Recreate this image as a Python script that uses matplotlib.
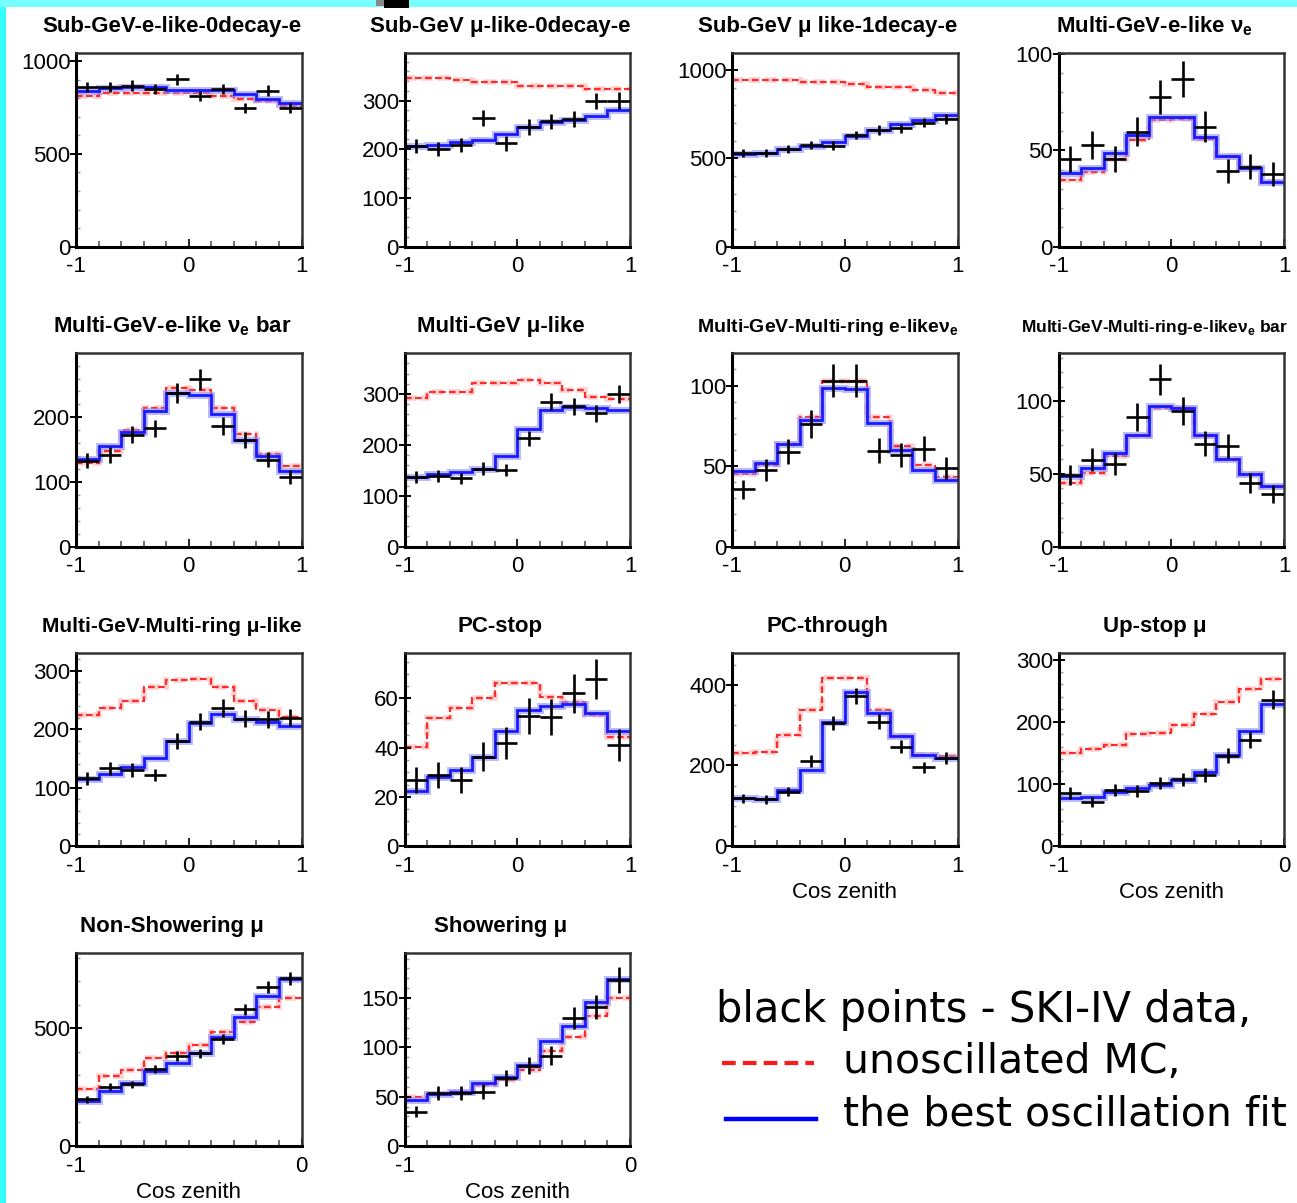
import numpy as np
import matplotlib
matplotlib.use('Agg')
import matplotlib.pyplot as plt
from matplotlib.ticker import MultipleLocator, FixedLocator
from matplotlib.patches import Rectangle
from matplotlib.lines import Line2D

plt.rcParams['font.family'] = ['Liberation Sans', 'DejaVu Sans']
plt.rcParams['axes.unicode_minus'] = False
plt.rcParams['mathtext.fontset'] = 'custom'
plt.rcParams['mathtext.rm'] = 'Liberation Sans'

# ---- data (10 bins per panel) ----
subgev_e0_data = [861, 861, 868, 850, 904, 814, 850, 747, 842, 747]
subgev_e0_err = [29, 29, 29, 29, 30, 28, 29, 27, 29, 27]
subgev_e0_fit = [837, 855, 860, 860, 846, 846, 846, 823, 797, 774]
subgev_e0_mc = [814, 828, 828, 828, 828, 828, 814, 797, 783, 760]

subgev_mu0_data = [207, 200, 209, 264, 212, 246, 257, 262, 299, 300]
subgev_mu0_err = [14, 14, 14, 16, 15, 16, 16, 16, 17, 17]
subgev_mu0_fit = [207, 209, 215, 219, 231, 245, 255, 259, 269, 281]
subgev_mu0_mc = [346, 346, 343, 338, 338, 330, 330, 330, 324, 323]

subgev_mu1_data = [528, 532, 553, 575, 572, 632, 660, 670, 702, 721]
subgev_mu1_err = [23, 23, 24, 24, 24, 25, 26, 26, 26, 27]
subgev_mu1_fit = [523, 532, 553, 572, 594, 628, 660, 694, 717, 745]
subgev_mu1_mc = [943, 943, 943, 932, 932, 920, 902, 902, 887, 868]

mge_nue_data = [45.3, 52.8, 45.3, 59.7, 77.5, 86.9, 62.3, 39.4, 41.5, 37.7]
mge_nue_err = [6.7, 7.3, 6.7, 7.7, 8.8, 9.3, 7.9, 6.3, 6.4, 6.1]
mge_nue_fit = [38.1, 41, 48.4, 58, 67.1, 67.5, 57.1, 47.2, 41, 33.7]
mge_nue_mc = [34.6, 38.9, 45.3, 55.4, 65.7, 66.3, 55.7, 46.7, 40.7, 33.7]

mge_nuebar_data = [133, 142, 173, 183, 238, 259, 187, 165, 134, 108]
mge_nuebar_err = [11.5, 12, 13, 13.5, 15.4, 16, 13.7, 12.8, 11.6, 10.4]
mge_nuebar_fit = [135, 155, 178, 210, 237, 234, 205, 165, 140, 117]
mge_nuebar_mc = [129, 148, 181, 214, 245, 242, 214, 174, 144, 125]

mgmu_data = [136, 139, 134, 153, 151, 213, 285, 276, 262, 300]
mgmu_err = [11.7, 11.8, 11.6, 12.4, 12.3, 14.6, 16.9, 16.6, 16.2, 17.3]
mgmu_fit = [136, 143, 147, 153, 179, 231, 269, 275, 272, 269]
mgmu_mc = [293, 303, 303, 321, 321, 327, 321, 308, 295, 290]

mr_nue_data = [35.6, 47.6, 59, 76.2, 103, 103, 59.6, 57, 60.7, 48.7]
mr_nue_err = [6, 6.9, 7.7, 8.7, 10.1, 10.1, 7.7, 7.5, 7.8, 7]
mr_nue_fit = [47, 52, 63.6, 78.3, 98.3, 97.7, 76.6, 60, 47.6, 41.4]
mr_nue_mc = [45, 50.7, 63.6, 80.3, 103, 103, 80.3, 62.7, 50.7, 43.5]

mr_nuebar_data = [49.4, 59.8, 57, 89.2, 115, 93.1, 70.8, 69, 43.7, 36.3]
mr_nuebar_err = [7, 7.7, 7.5, 9.4, 10.7, 9.6, 8.4, 8.3, 6.6, 6]
mr_nuebar_fit = [48.3, 54, 64.4, 77, 96.6, 95.4, 77, 60.2, 50.1, 41.4]
mr_nuebar_mc = [43.7, 50.6, 62, 75.9, 95.4, 95.4, 75.9, 60.2, 50.1, 40.9]

mr_mu_data = [116, 133, 130, 121.5, 180, 213, 237, 218, 217, 220]
mr_mu_err = [10.8, 11.5, 11.4, 11, 13.4, 14.6, 15.4, 14.8, 14.7, 14.8]
mr_mu_fit = [114, 124, 135, 150, 180, 211, 226, 218, 213, 205]
mr_mu_mc = [224, 236, 249, 272, 284, 286, 272, 249, 233, 221]

pcstop_data = [26.8, 28.9, 26.8, 36.3, 41.7, 52.8, 52.6, 62.1, 67.9, 41.1]
pcstop_err = [5.2, 5.4, 5.2, 6, 6.5, 7.3, 7.3, 7.9, 8.2, 6.4]
pcstop_fit = [22.4, 28.2, 30.9, 36.3, 46.7, 55.3, 56.9, 57.7, 54.2, 46.7]
pcstop_mc = [40.4, 51.9, 56.2, 60, 66.4, 66.4, 60.7, 58.7, 53.3, 44.4]

pcthru_data = [118, 116, 135, 212, 306, 373, 309, 247, 195, 218]
pcthru_err = [10.9, 10.8, 11.6, 14.6, 17.5, 19.3, 17.6, 15.7, 14, 14.8]
pcthru_fit = [118, 116, 139, 189, 307, 383, 330, 272, 226, 218]
pcthru_mc = [232, 234, 276, 338, 417, 417, 338, 272, 226, 224]

upstop_data = [85.7, 71.2, 90, 89, 101, 107, 114, 145, 171, 235]
upstop_err = [9.3, 8.4, 9.5, 9.4, 10, 10.3, 10.7, 12, 13.1, 15.3]
upstop_fit = [76.6, 78.2, 87.3, 92.7, 98, 106, 119.4, 146, 185, 228]
upstop_mc = [149, 156, 163, 181, 182, 194, 213, 232, 252, 269]

nonshow_data = [198, 252, 262, 327, 382, 394, 453, 581, 674, 712]
nonshow_err = [14, 16, 16, 18, 19.5, 19.8, 21.3, 24.1, 26, 26.7]
nonshow_fit = [191, 235, 269, 320, 354, 394, 462, 550, 639, 708]
nonshow_mc = [241, 297, 323, 372, 397, 429, 486, 528, 592, 627]

show_data = [34.9, 53.5, 53.5, 55.2, 68.7, 81.6, 91.4, 129.7, 141, 168.6]
show_err = [5.9, 7.3, 7.3, 7.4, 8.3, 9, 9.6, 11.4, 11.9, 13]
show_fit = [46.7, 52.5, 55.2, 64.3, 70.4, 82.3, 106.7, 122, 146, 169]
show_mc = [49.4, 52.5, 55.2, 62, 67, 77.2, 96.5, 111, 131.4, 150]

titles = ['Sub-GeV-e-like-0decay-e', 'Sub-GeV μ-like-0decay-e',
          'Sub-GeV μ like-1decay-e', r'Multi-GeV-e-like ν$_\mathregular{e}$',
          r'Multi-GeV-e-like ν$_\mathregular{e}$ bar', 'Multi-GeV μ-like',
          r'Multi-GeV-Multi-ring e-likeν$_\mathregular{e}$',
          r'Multi-GeV-Multi-ring-e-likeν$_\mathregular{e}$ bar',
          'Multi-GeV-Multi-ring μ-like', 'PC-stop', 'PC-through', 'Up-stop μ',
          'Non-Showering μ', 'Showering μ']

panels = [
    (subgev_e0_data, subgev_e0_err, subgev_e0_fit, subgev_e0_mc),
    (subgev_mu0_data, subgev_mu0_err, subgev_mu0_fit, subgev_mu0_mc),
    (subgev_mu1_data, subgev_mu1_err, subgev_mu1_fit, subgev_mu1_mc),
    (mge_nue_data, mge_nue_err, mge_nue_fit, mge_nue_mc),
    (mge_nuebar_data, mge_nuebar_err, mge_nuebar_fit, mge_nuebar_mc),
    (mgmu_data, mgmu_err, mgmu_fit, mgmu_mc),
    (mr_nue_data, mr_nue_err, mr_nue_fit, mr_nue_mc),
    (mr_nuebar_data, mr_nuebar_err, mr_nuebar_fit, mr_nuebar_mc),
    (mr_mu_data, mr_mu_err, mr_mu_fit, mr_mu_mc),
    (pcstop_data, pcstop_err, pcstop_fit, pcstop_mc),
    (pcthru_data, pcthru_err, pcthru_fit, pcthru_mc),
    (upstop_data, upstop_err, upstop_fit, upstop_mc),
    (nonshow_data, nonshow_err, nonshow_fit, nonshow_mc),
    (show_data, show_err, show_fit, show_mc),
]

# ---- layout / style per panel: (xmax, ymax, major, minor, title size) ----
layout = [
    (1, 1043, 500, 100, 16), (1, 397, 100, 20, 16), (1, 1094, 500, 100, 16), (1, 100.3, 50, 10, 16),
    (1, 299, 100, 20, 16), (1, 380, 100, 20, 16), (1, 120, 50, 10, 14), (1, 133, 50, 10, 12.5),
    (1, 331, 100, 20, 15), (1, 78.6, 20, 5, 16), (1, 480, 200, 50, 16), (0, 311, 100, 20, 16),
    (0, 821, 500, 100, 16), (0, 196, 50, 10, 16),
]

W, H = 1297, 1203
col_left = [76, 404.5, 732, 1058.5]
row_top = [53.3, 353.3, 652.7, 952.7]
aw, ah = 225.5, 193.3

fig = plt.figure(figsize=(W / 100, H / 100), dpi=100)

# cyan frame bits
fig.add_artist(Rectangle((0, 0), 6 / W, 1, transform=fig.transFigure, color='#33ffff', lw=0))
fig.add_artist(Rectangle((0, 1 - 7 / H), 1, 7 / H, transform=fig.transFigure, color='#77ffff', lw=0))
fig.add_artist(Rectangle((384 / W, 1 - 8 / H), 25 / W, 8 / H, transform=fig.transFigure, color='black', lw=0))
fig.add_artist(Rectangle((376 / W, 1 - 6 / H), 8 / W, 6 / H, transform=fig.transFigure, color='#888888', lw=0))

for i, (vals, lay) in enumerate(zip(panels, layout)):
    data, err, fit, mc = vals
    xmax, ymax, major, minor, tsize = lay
    r, c = divmod(i, 4)
    ax = fig.add_axes([col_left[c] / W, 1 - (row_top[r] + ah) / H, aw / W, ah / H])
    edges = np.linspace(-1, xmax, 11)
    centers = 0.5 * (edges[:-1] + edges[1:])
    hw = 0.5 * (edges[1] - edges[0])

    ax.stairs(mc, edges, baseline=None, color='#ffb0b0', lw=4, alpha=0.6, linestyle=(0, (2, 1)))
    ax.stairs(mc, edges, baseline=None, color='#ff2a2a', lw=1.6, linestyle=(0, (3, 1.5)))
    ax.stairs(fit, edges, baseline=None, color='#8c8cff', lw=5, alpha=0.6)
    ax.stairs(fit, edges, baseline=None, color='#1a1aff', lw=2)
    ax.errorbar(centers, data, xerr=hw, yerr=err, fmt='none', ecolor='black',
                elinewidth=1.9, capsize=0, zorder=5)

    ax.set_xlim(-1, xmax)
    ax.set_ylim(0, ymax)
    ax.set_title(titles[i], fontsize=tsize, fontweight='bold', x=0.425, pad=15)

    xt = [-1, 0, 1] if xmax == 1 else [-1, 0]
    ax.xaxis.set_major_locator(FixedLocator(xt))
    ax.xaxis.set_minor_locator(FixedLocator(edges))
    ax.yaxis.set_major_locator(MultipleLocator(major))
    ax.yaxis.set_minor_locator(MultipleLocator(minor))
    ax.tick_params(axis='x', which='major', direction='in', length=6, width=1.2,
                   labelsize=16, pad=7)
    ax.tick_params(axis='x', which='minor', direction='in', length=4, width=1.2, color='#555555')
    ax.tick_params(axis='y', which='major', direction='inout', length=8, width=1.4,
                   labelsize=16, pad=0)
    ax.tick_params(axis='y', which='minor', direction='in', length=3, width=1, color='#999999')

    for s in ['left', 'bottom']:
        ax.spines[s].set_linewidth(2.2)
        ax.spines[s].set_color('black')
    for s in ['top', 'right']:
        ax.spines[s].set_linewidth(1.8)
        ax.spines[s].set_color('#333333')

    if i >= 10:
        ax.set_xlabel('Cos zenith', fontsize=16, labelpad=4)

# legend text block
fig.text(716 / W, 1 - 1022 / H, 'black points - SKI-IV data,', fontsize=30,
         family='DejaVu Sans', va='baseline')
fig.text(843 / W, 1 - 1073 / H, 'unoscillated MC,', fontsize=29.5,
         family='DejaVu Sans', va='baseline')
fig.text(843 / W, 1 - 1125 / H, 'the best oscillation fit', fontsize=29.5,
         family='DejaVu Sans', va='baseline')
fig.add_artist(Line2D([722 / W, 814 / W], [1 - 1063 / H, 1 - 1063 / H], color='#ff1a1a',
                      lw=3, linestyle=(0, (3.3, 1.7)), transform=fig.transFigure))
fig.add_artist(Line2D([726 / W, 816 / W], [1 - 1119 / H, 1 - 1119 / H], color='#0000ff',
                      lw=3.2, transform=fig.transFigure))

fig.savefig('out.png', dpi=100)
